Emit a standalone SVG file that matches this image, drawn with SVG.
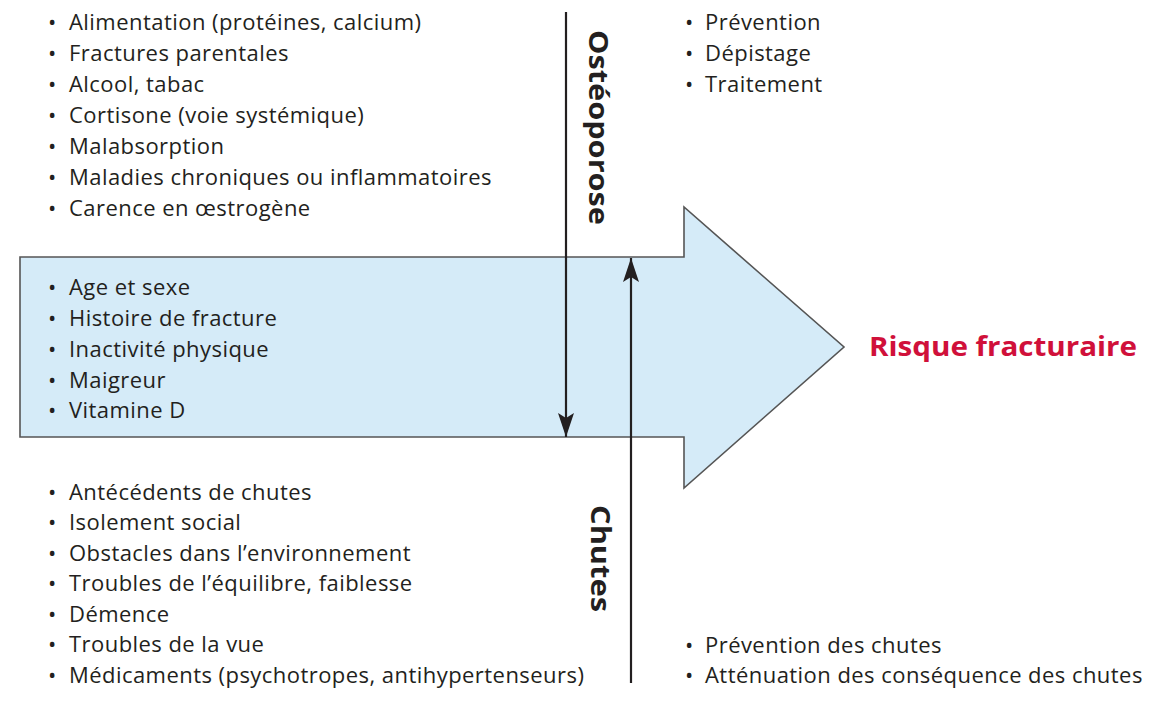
<svg xmlns="http://www.w3.org/2000/svg" width="1152" height="702" viewBox="0 0 1152 702">
<defs>
<style>
.t{font-family:"Open Sans","Liberation Sans",Arial,sans-serif;font-size:22px;letter-spacing:0.45px;fill:#231f20}
.v{font-family:"Open Sans","Liberation Sans",Arial,sans-serif;font-size:26px;font-weight:bold;fill:#231f20}
.r{font-family:"Open Sans","Liberation Sans",Arial,sans-serif;font-size:26px;font-weight:bold;fill:#d0103a}
.ln{stroke:#231f20;stroke-width:2.2;fill:none}
</style>
<marker id="ah2" viewBox="0 0 24 16" refX="24" refY="8" markerWidth="24" markerHeight="16" markerUnits="userSpaceOnUse" orient="auto">
<path d="M0,0 L24,8 L0,16 L5,8 Z" fill="#231f20"/>
</marker>
</defs>
<rect width="1152" height="702" fill="#fff"/>
<g id="big-arrow">
<path d="M20,257 L684,257 L684,207 L844,347 L684,488 L684,437 L20,437 Z" fill="#d5ebf8" stroke="#555" stroke-width="1.6"/>
</g>
<g id="connectors">
<line class="ln" x1="566" y1="12" x2="566" y2="437" marker-end="url(#ah2)"/>
<line class="ln" x1="631" y1="683" x2="631" y2="258" marker-end="url(#ah2)"/>
</g>
<g id="osteoporose">
<text class="v" transform="translate(589,30) rotate(90)" textLength="195" lengthAdjust="spacingAndGlyphs">Ostéoporose</text>
</g>
<g id="chutes">
<text class="v" transform="translate(591,505) rotate(90)" textLength="107" lengthAdjust="spacingAndGlyphs">Chutes</text>
</g>
<g id="risque">
<text class="r" x="869" y="356" textLength="268" lengthAdjust="spacingAndGlyphs">Risque fracturaire</text>
</g>
<g id="facteurs-osteoporose">
<text class="t" x="48" y="30">•</text><text class="t" x="69" y="30">Alimentation (protéines, calcium)</text>
<text class="t" x="48" y="61">•</text><text class="t" x="69" y="61">Fractures parentales</text>
<text class="t" x="48" y="92">•</text><text class="t" x="69" y="92">Alcool, tabac</text>
<text class="t" x="48" y="123">•</text><text class="t" x="69" y="123">Cortisone (voie systémique)</text>
<text class="t" x="48" y="154">•</text><text class="t" x="69" y="154">Malabsorption</text>
<text class="t" x="48" y="185">•</text><text class="t" x="69" y="185">Maladies chroniques ou inflammatoires</text>
<text class="t" x="48" y="216">•</text><text class="t" x="69" y="216">Carence en œstrogène</text>
</g>
<g id="facteurs-communs">
<text class="t" x="48" y="295">•</text><text class="t" x="69" y="295">Age et sexe</text>
<text class="t" x="48" y="326">•</text><text class="t" x="69" y="326">Histoire de fracture</text>
<text class="t" x="48" y="357">•</text><text class="t" x="69" y="357">Inactivité physique</text>
<text class="t" x="48" y="388">•</text><text class="t" x="69" y="388">Maigreur</text>
<text class="t" x="48" y="418">•</text><text class="t" x="69" y="418">Vitamine D</text>
</g>
<g id="facteurs-chutes">
<text class="t" x="48" y="500">•</text><text class="t" x="69" y="500">Antécédents de chutes</text>
<text class="t" x="48" y="530">•</text><text class="t" x="69" y="530">Isolement social</text>
<text class="t" x="48" y="561">•</text><text class="t" x="69" y="561">Obstacles dans l’environnement</text>
<text class="t" x="48" y="591">•</text><text class="t" x="69" y="591">Troubles de l’équilibre, faiblesse</text>
<text class="t" x="48" y="622">•</text><text class="t" x="69" y="622">Démence</text>
<text class="t" x="48" y="652">•</text><text class="t" x="69" y="652">Troubles de la vue</text>
<text class="t" x="48" y="683">•</text><text class="t" x="69" y="683">Médicaments (psychotropes, antihypertenseurs)</text>
</g>
<g id="actions-osteoporose">
<text class="t" x="685" y="30">•</text><text class="t" x="705" y="30">Prévention</text>
<text class="t" x="685" y="61">•</text><text class="t" x="705" y="61">Dépistage</text>
<text class="t" x="685" y="92">•</text><text class="t" x="705" y="92">Traitement</text>
</g>
<g id="actions-chutes">
<text class="t" x="685" y="653">•</text><text class="t" x="705" y="653">Prévention des chutes</text>
<text class="t" x="685" y="683">•</text><text class="t" x="705" y="683">Atténuation des conséquence des chutes</text>
</g>
</svg>
